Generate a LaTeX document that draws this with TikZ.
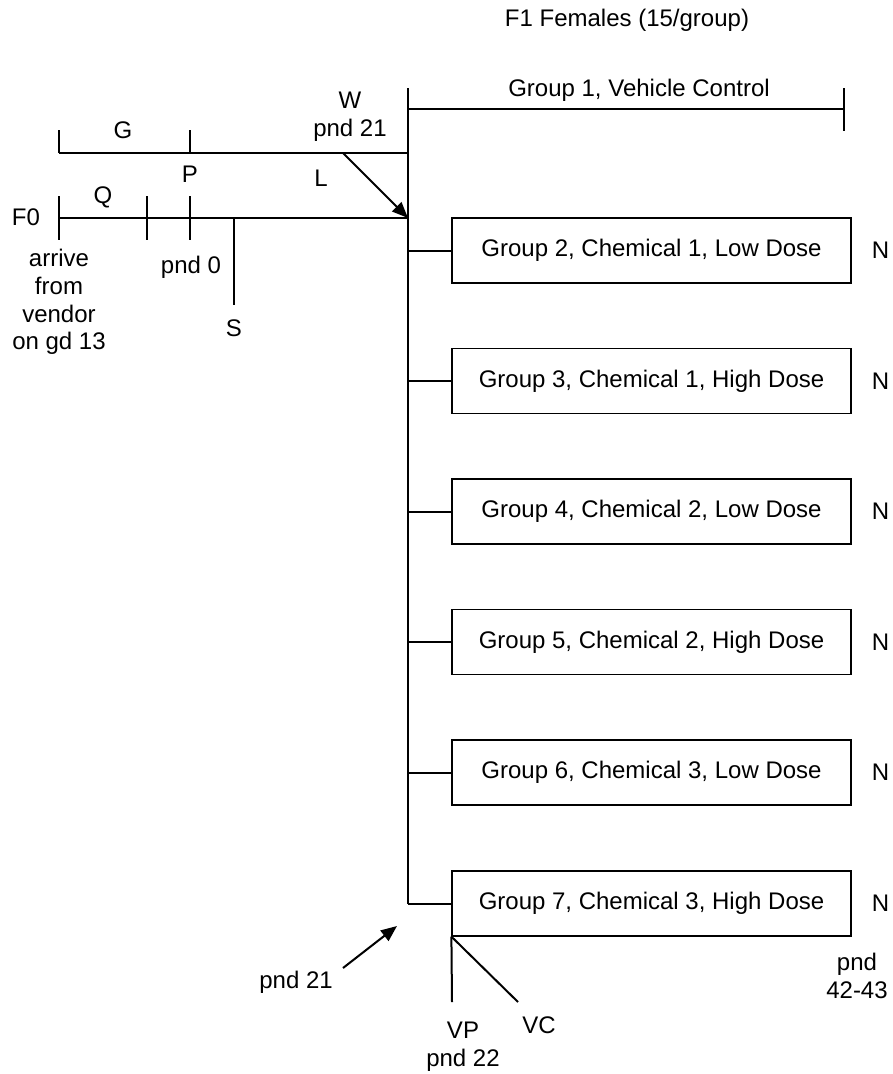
\documentclass[tikz,border=0pt]{standalone}
\usepackage{fontspec}
\setmainfont{Liberation Sans}
\usetikzlibrary{arrows.meta}
\begin{document}
\begin{tikzpicture}[x=1pt,y=-1pt,
  every node/.style={font=\fontsize{24}{27.6}\selectfont, inner sep=0pt, align=center},
  ln/.style={line width=2pt},
  grpbox/.style={draw, line width=1.2pt, minimum width=399pt, minimum height=65pt, inner sep=0pt},
  arr/.style={line width=2pt, -{Triangle[length=16pt,width=13pt]}}]
\useasboundingbox (0,0) rectangle (893,1074);

% title
\node (title) at (627,20) {F1 Females (15/group)};

% main vertical line and group 1
\coordinate (vtop) at (408,88);
\coordinate (vbot) at (408,904);
\coordinate (g1l) at (408,109);
\coordinate (g1r) at (844,109);
\coordinate (g1tt) at (844,88);
\coordinate (g1tb) at (844,131);
\draw[ln] (vtop) -- (vbot);
\draw[ln] (g1l) -- (g1r);
\draw[ln] (g1tt) -- (g1tb);
\node (g1) at (639,90) {Group 1, Vehicle Control};

% G line
\coordinate (gL) at (59,153);
\coordinate (gLt) at (59,130);
\coordinate (gP) at (190,153);
\coordinate (gPt) at (190,130);
\coordinate (gR) at (408,153);
\coordinate (lS) at (343,153);
\draw[ln] (gL) -- (gR);
\draw[ln] (gL) -- (gLt);
\draw[ln] (gP) -- (gPt);
\node (G) at (123,130) {G};
\node (P) at (190,174) {P};
\node (L) at (321,178) {L};
\node (W) at (350,117) {W\\pnd 21};

% F0 line
\coordinate (fL) at (59,218);
\coordinate (fR) at (408,218);
\coordinate (t1a) at (59,196);  \coordinate (t1b) at (59,240);
\coordinate (t2a) at (147,196); \coordinate (t2b) at (147,240);
\coordinate (t3a) at (190,196); \coordinate (t3b) at (190,240);
\coordinate (sA) at (234,218);  \coordinate (sB) at (234,305);
\draw[ln] (fL) -- (fR);
\draw[ln] (t1a) -- (t1b);
\draw[ln] (t2a) -- (t2b);
\draw[ln] (t3a) -- (t3b);
\draw[ln] (sA) -- (sB);
\draw[arr] (lS) -- (fR);
\node (F0) at (26,217) {F0};
\node (Q) at (103,197) {Q};
\node (S) at (234,328) {S};
\node (pnd0) at (191,267) {pnd 0};
\node (arrive) at (59,302) {arrive\\from\\vendor\\on gd 13};

% group boxes
\node[grpbox] (b2) at (651.5,250.5) {Group 2, Chemical 1, Low Dose};
\node[grpbox] (b3) at (651.5,381) {Group 3, Chemical 1, High Dose};
\node[grpbox] (b4) at (651.5,511.5) {Group 4, Chemical 2, Low Dose};
\node[grpbox] (b5) at (651.5,642) {Group 5, Chemical 2, High Dose};
\node[grpbox] (b6) at (651.5,772.5) {Group 6, Chemical 3, Low Dose};
\node[grpbox] (b7) at (651.5,903.5) {Group 7, Chemical 3, High Dose};
\foreach \b in {b2,b3,b4,b5,b6,b7}{
  \draw[ln] (\b.west) -- (\b.west -| vtop);
  \node[anchor=west] (n\b) at ([xshift=20pt]\b.east) {N};
}

% bottom annotations
\coordinate (a21s) at (343,968);
\coordinate (a21e) at (397,926);
\draw[arr] (a21s) -- (a21e);
\node[anchor=east] (p21) at (333,982) {pnd 21};
\coordinate (vpE) at (452,1002);
\coordinate (vcE) at (518,1002);
\draw[ln] (b7.south west) -- (vpE);
\draw[ln] (b7.south west) -- (vcE);
\node (VP) at (463,1047) {VP\\pnd 22};
\node (VC) at (539,1025) {VC};
\node (p4243) at (857,976) {pnd\\42-43};
\end{tikzpicture}
\end{document}
